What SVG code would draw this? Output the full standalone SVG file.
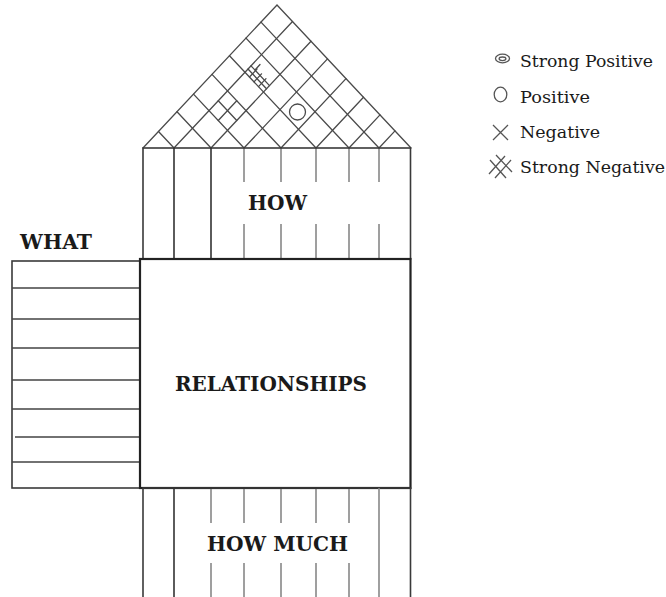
<svg xmlns="http://www.w3.org/2000/svg" width="666" height="597" viewBox="0 0 666 597">
  <style>
    .grid { stroke: #4a4a4a; stroke-width: 1.3; fill: none; stroke-linecap: round; }
    .frame { stroke: #3a3a3a; stroke-width: 1.6; fill: none; }
    .heavy { stroke: #222; stroke-width: 2.2; fill: none; }
    .col { stroke: #333; stroke-width: 1.6; fill: none; }
    .tick { stroke: #888; stroke-width: 1.6; fill: none; }
    .row { stroke: #444; stroke-width: 1.5; fill: none; }
    .sym { stroke: #555; stroke-width: 1.3; fill: none; }
    .label { font-family: "DejaVu Serif", "Liberation Serif", serif; font-weight: bold; font-size: 20px; fill: #1a1a1a; }
    .legend { font-family: "DejaVu Serif", "Liberation Serif", serif; font-size: 17px; fill: #1a1a1a; }
  </style>

  <!-- Roof: correlation matrix -->
  <g id="roof">
    <polyline class="grid" points="143,148 277,5 411,148"/>
    <!-- up-right lattice lines from each column point -->
    <line class="grid" x1="174" y1="148" x2="292.5" y2="21.54"/>
    <line class="grid" x1="211" y1="148" x2="311" y2="41.28"/>
    <line class="grid" x1="244" y1="148" x2="327.5" y2="58.89"/>
    <line class="grid" x1="281" y1="148" x2="346" y2="78.63"/>
    <line class="grid" x1="316" y1="148" x2="363.5" y2="97.31"/>
    <line class="grid" x1="349" y1="148" x2="380" y2="114.92"/>
    <line class="grid" x1="379" y1="148" x2="395" y2="130.92"/>
    <!-- up-left lattice lines -->
    <line class="grid" x1="174" y1="148" x2="158.5" y2="131.46"/>
    <line class="grid" x1="211" y1="148" x2="177" y2="111.72"/>
    <line class="grid" x1="244" y1="148" x2="193.5" y2="94.11"/>
    <line class="grid" x1="281" y1="148" x2="212" y2="74.36"/>
    <line class="grid" x1="316" y1="148" x2="229.5" y2="55.69"/>
    <line class="grid" x1="349" y1="148" x2="246" y2="38.08"/>
    <line class="grid" x1="379" y1="148" x2="261" y2="22.07"/>
    <!-- negative mark -->
    <line class="grid" x1="218.25" y1="120.52" x2="236.75" y2="100.78"/>
    <line class="grid" x1="218.25" y1="100.78" x2="236.75" y2="120.52"/>
    <!-- strong negative mark -->
    <line class="grid" x1="249.5" y1="77.03" x2="257" y2="69.03"/>
    <line class="grid" x1="254" y1="81.83" x2="261.5" y2="73.83"/>
    <line class="grid" x1="258.5" y1="86.64" x2="266" y2="78.63"/>
    <line class="grid" x1="248" y1="69.03" x2="266.5" y2="88.77"/>
    <line class="grid" x1="251" y1="65.83" x2="269.5" y2="85.57"/>
    <line class="grid" x1="255" y1="70" x2="260" y2="64.5"/>
    <!-- positive mark -->
    <circle class="grid" cx="297.5" cy="112" r="8"/>
  </g>

  <!-- HOW: technical requirements -->
  <g id="how">
    <rect class="frame" x="143" y="148" width="267.5" height="111"/>
    <line class="col" x1="174" y1="148" x2="174" y2="259"/>
    <line class="col" x1="211" y1="148" x2="211" y2="259"/>
    <path class="tick" d="M244,149V182M281,149V182M316,149V182M349,149V182M379,149V182M244,224V258M281,224V258M316,224V258M349,224V258M379,224V258"/>
    <text class="label" x="248" y="210" textLength="59" lengthAdjust="spacingAndGlyphs">HOW</text>
  </g>

  <!-- WHAT: customer requirements -->
  <g id="what">
    <rect class="frame" x="12" y="261" width="128" height="227"/>
    <path class="row" d="M12,288H140M12,319H140M12,348H140M12,380H140M12,409H140M15,437H140M12,462H140"/>
    <text class="label" x="20" y="249" textLength="72" lengthAdjust="spacingAndGlyphs">WHAT</text>
  </g>

  <!-- RELATIONSHIPS matrix -->
  <g id="relationships">
    <rect class="heavy" x="140" y="259" width="270.5" height="229"/>
    <text class="label" x="175" y="391" textLength="192" lengthAdjust="spacingAndGlyphs">RELATIONSHIPS</text>
  </g>

  <!-- HOW MUCH: target values -->
  <g id="how-much">
    <path class="frame" d="M143,597V488H410.5V597"/>
    <line class="col" x1="174" y1="488" x2="174" y2="597"/>
    <line class="tick" x1="379" y1="488" x2="379" y2="597"/>
    <path class="tick" d="M211,489V523M244,489V523M281,489V523M316,489V523M349,489V523M211,563V597M244,563V597M281,563V597M316,563V597M349,563V597"/>
    <text class="label" x="207" y="551" textLength="141" lengthAdjust="spacingAndGlyphs">HOW MUCH</text>
  </g>

  <!-- Legend -->
  <g id="legend">
    <g id="legend-strong-positive">
      <ellipse class="sym" cx="502.5" cy="58.5" rx="7" ry="4.3" stroke-width="1.6"/>
      <ellipse class="sym" cx="502.5" cy="58.8" rx="3.4" ry="1.8" stroke-width="1.5"/>
      <text class="legend" x="520" y="67" textLength="133" lengthAdjust="spacingAndGlyphs">Strong Positive</text>
    </g>
    <g id="legend-positive">
      <ellipse class="sym" cx="500.5" cy="94.5" rx="6.3" ry="7.3"/>
      <text class="legend" x="520" y="103" textLength="70" lengthAdjust="spacingAndGlyphs">Positive</text>
    </g>
    <g id="legend-negative">
      <path class="sym" d="M493,125L508,140M508,125L493,140"/>
      <text class="legend" x="520" y="138" textLength="80" lengthAdjust="spacingAndGlyphs">Negative</text>
    </g>
    <g id="legend-strong-negative">
      <path class="sym" d="M489,174L505,156M495,178L511,160M490,160L506,178M496,155L512,172"/>
      <text class="legend" x="520" y="173" textLength="145" lengthAdjust="spacingAndGlyphs">Strong Negative</text>
    </g>
  </g>
</svg>
